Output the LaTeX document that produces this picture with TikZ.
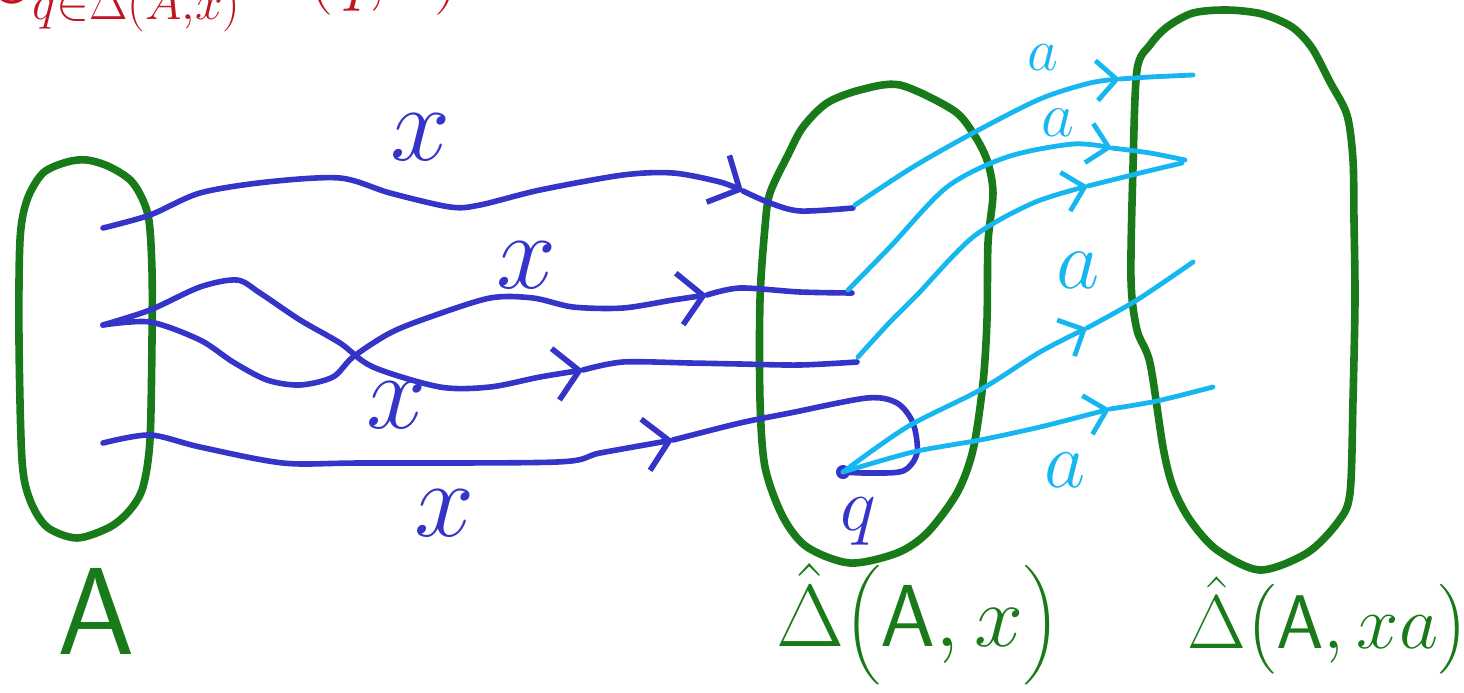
\RequirePackage{fix-cm}
\documentclass[tikz,border=0pt]{standalone}
\usepackage{exscale}
\usetikzlibrary{arrows.meta}
\definecolor{gr}{RGB}{24,122,24}
\definecolor{bl}{RGB}{52,52,200}
\definecolor{cy}{RGB}{22,182,240}
\definecolor{rd}{RGB}{192,22,34}
\begin{document}
\begin{tikzpicture}[x=0.5pt,y=-0.5pt,
  setline/.style={draw=gr,line width=3.8pt,line join=round},
  xline/.style={draw=bl,line width=2.8pt,line cap=round,line join=round},
  aline/.style={draw=cy,line width=2.4pt,line cap=round,line join=round},
  xarr/.style={xline,-{Straight Barb[length=12pt,width=26pt]}},
  aarr/.style={aline,-{Straight Barb[length=10pt,width=20pt]}},
  xlab/.style={text=bl,font=\fontsize{54}{60}\selectfont,inner sep=0pt},
  alab/.style={text=cy,inner sep=0pt},
  setlab/.style={text=gr,inner sep=0pt}]
\useasboundingbox (0,0) rectangle (1464,692);
\clip (0,0) rectangle (1464,692);

% title (cut off at top)
\node[anchor=base west,text=rd,font=\fontsize{35.5}{40}\selectfont,inner sep=0pt] (title) at (-9,-3)
  {$\bigcup_{q\in\hat{\Delta}(A,x)}\Delta(q,a)$};

% sets
\draw[setline] plot[smooth cycle] coordinates {(87,160) (110,167) (133,183) (148,215) (152,270) (152,340) (150,440) (143,487) (130,510) (110,527) (77,538) (47,527) (30,500) (22,460) (19,340) (20,240) (27,200) (43,173) (67,162)};
\draw[setline] plot[smooth cycle] coordinates {(900,85) (953,110) (973,133) (987,160) (993,193) (988,243) (987,320) (983,383) (973,450) (957,493) (927,533) (897,553) (850,563) (807,547) (783,517) (765,467) (760,400) (760,300) (765,227) (770,193) (788,155) (803,127) (827,103) (860,90)};
\draw[setline] plot[smooth cycle] coordinates {(1227,10) (1262,14) (1292,27) (1312,48) (1330,82) (1347,115) (1353,160) (1354,220) (1355,300) (1353,400) (1350,493) (1338,522) (1307,553) (1260,570) (1217,550) (1190,520) (1173,487) (1163,447) (1150,363) (1137,330) (1131,280) (1133,167) (1137,70) (1150,45) (1167,27) (1193,13)};

% set labels
\node[setlab,font=\fontsize{62}{70}\selectfont] (lA) at (96,611) {$\mathsf{A}$};
\node[setlab,font=\fontsize{44}{50}\selectfont] (lDx) at (918,624) {$\hat{\Delta}\bigl(\mathsf{A}{,}\,x\bigr)$};
\node[setlab,font=\fontsize{38}{50}\selectfont] (lDxa) at (1328,626) {$\hat{\Delta}\bigl(\mathsf{A}{,}\,xa\bigr)$};

% endpoints
\coordinate (s1) at (103,228);
\coordinate (s2) at (103,325);
\coordinate (s4) at (103,443);
\coordinate (e1) at (853,208);
\coordinate (e2) at (852,293);
\coordinate (e3) at (857,362);
\coordinate (q) at (843,472);
\coordinate (t1) at (1193,75);
\coordinate (t2) at (1185,160);
\coordinate (t4) at (1193,262);
\coordinate (t5) at (1213,387);

% blue x-transitions
\draw[xarr] plot[smooth] coordinates {(s1) (150,215) (200,193) (267,182) (340,178) (390,193) (450,207) (480,205) (540,190) (623,175) (673,173) (720,182) (743,191)};
\draw[xline] plot[smooth] coordinates {(743,191) (770,203) (800,211) (e1)};

\draw[xarr] plot[smooth] coordinates {(s2) (150,322) (200,340) (233,362) (267,380) (300,385) (333,377) (353,357) (390,333) (430,317) (490,298) (533,298) (573,307) (623,308) (673,300) (707,295)};
\draw[xline] plot[smooth] coordinates {(707,295) (740,288) (800,292) (e2)};

\draw[xarr] plot[smooth] coordinates {(s2) (150,310) (200,287) (237,280) (260,293) (300,320) (340,343) (373,367) (440,387) (490,387) (540,377) (583,370)};
\draw[xline] plot[smooth] coordinates {(583,370) (623,362) (690,363) (740,364) (800,365) (e3)};

\draw[xarr] plot[smooth] coordinates {(s4) (150,435) (200,447) (283,463) (360,463) (557,462) (600,453) (673,440)};
\draw[xline] plot[smooth] coordinates {(673,440) (740,423) (790,413) (867,398) (897,403) (913,423) (917,453) (903,471) (867,473) (q)};
\fill[bl] (q) circle (7);

\node[xlab] (x1) at (421,137) {$x$};
\node[xlab] (x2) at (527,265) {$x$};
\node[xlab] (x3) at (397,405) {$x$};
\node[xlab] (x4) at (445,513) {$x$};
\node[text=bl,inner sep=0pt,font=\fontsize{38}{44}\selectfont] (lq) at (858,522) {$q$};

% cyan a-transitions
\draw[aarr] plot[smooth] coordinates {(855,205) (913,167) (973,133) (1040,99) (1090,83) (1120,79)};
\draw[aline] plot[smooth] coordinates {(1120,79) (1150,77) (t1)};

\draw[aarr] plot[smooth] coordinates {(848,290) (890,247) (947,187) (1007,157) (1073,144) (1112,148)};
\draw[aline] plot[smooth] coordinates {(1112,148) (1150,153) (t2)};

\draw[aarr] plot[smooth] coordinates {(858,357) (890,322) (917,295) (973,237) (1033,203) (1088,186)};
\draw[aline] plot[smooth] coordinates {(1088,186) (1140,173) (1182,163)};

\draw[aarr] plot[smooth] coordinates {(q) (907,427) (980,390) (1040,352) (1087,328)};
\draw[aline] plot[smooth] coordinates {(1087,328) (1137,300) (t4)};

\draw[aarr] plot[smooth] coordinates {(q) (913,452) (980,440) (1040,427) (1110,409)};
\draw[aline] plot[smooth] coordinates {(1110,409) (1157,401) (t5)};

\node[alab,font=\fontsize{30}{36}\selectfont] (a1) at (1043,58) {$a$};
\node[alab,font=\fontsize{32}{36}\selectfont] (a2) at (1058,123) {$a$};
\node[alab,font=\fontsize{42}{48}\selectfont] (a3) at (1078,270) {$a$};
\node[alab,font=\fontsize{40}{48}\selectfont] (a4) at (1065,470) {$a$};
\end{tikzpicture}
\end{document}
